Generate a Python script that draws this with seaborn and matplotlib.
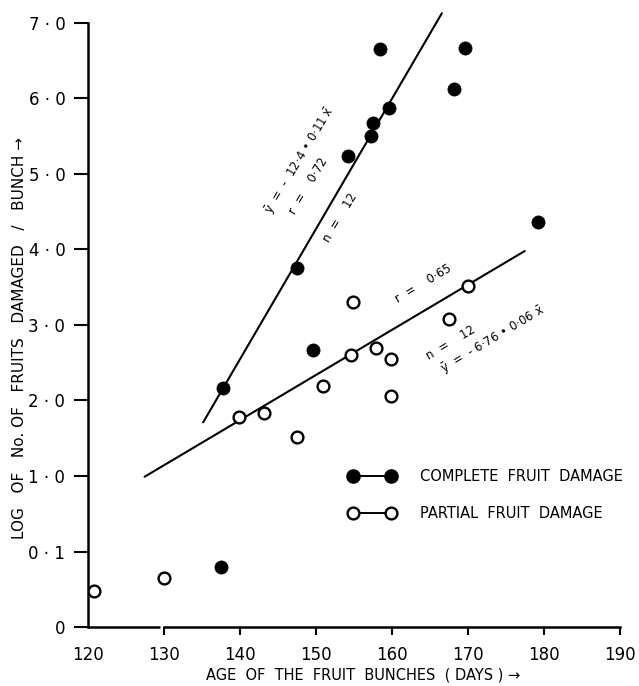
import matplotlib
matplotlib.use("Agg")
import matplotlib.pyplot as plt
import seaborn as sns
from matplotlib.lines import Line2D

# ---------------------------------------------------
# Daten
# ---------------------------------------------------
complete_age = [137.5, 137.8, 147.6, 149.6, 154.2, 157.3, 157.5, 158.4, 159.6, 168.2, 169.6, 179.2]
complete_log = [-0.20, 2.17, 3.76, 2.67, 5.24, 5.50, 5.68, 6.66, 5.88, 6.13, 6.67, 4.37]

partial_age = [120.9, 130.1, 139.9, 143.2, 147.5, 150.9, 154.7, 154.9, 157.9, 159.9, 159.9, 167.5, 170.0]
partial_log = [-0.52, -0.35, 1.78, 1.83, 1.52, 2.19, 2.60, 3.30, 2.70, 2.55, 2.06, 3.08, 3.51]

# Regressionsgeraden (Endpunkte)
complete_fit_age = [135.2, 166.6]
complete_fit_log = [1.71, 7.13]
partial_fit_age = [127.5, 177.5]
partial_fit_log = [0.99, 3.98]

x_ticks = [120, 130, 140, 150, 160, 170, 180, 190]
y_ticks = [-1, 0, 1, 2, 3, 4, 5, 6, 7]
y_tick_labels = ["0", "0 · 1", "1 · 0", "2 · 0", "3 · 0", "4 · 0", "5 · 0", "6 · 0", "7 · 0"]

legend_labels = ["COMPLETE  FRUIT  DAMAGE", "PARTIAL  FRUIT  DAMAGE"]

# ---------------------------------------------------
# Plot
# ---------------------------------------------------
sns.set_style("ticks")
plt.rcParams["font.family"] = ["DejaVu Sans"]
plt.rcParams["mathtext.fontset"] = "dejavusans"
for key in ["text.color", "axes.labelcolor", "xtick.color", "ytick.color", "axes.edgecolor"]:
    plt.rcParams[key] = "black"

fig = plt.figure(figsize=(6.39, 6.86), dpi=100)
ax = fig.add_axes([0.137, 0.086, 0.833, 0.9025])

sns.lineplot(x=complete_fit_age, y=complete_fit_log, color="black", lw=1.5, ax=ax)
sns.lineplot(x=partial_fit_age, y=partial_fit_log, color="black", lw=1.5, ax=ax)

sns.scatterplot(x=complete_age, y=complete_log, color="black", s=90,
                edgecolor="black", linewidth=0.5, ax=ax, zorder=3)
sns.scatterplot(x=partial_age, y=partial_log, facecolor="white", s=72,
                edgecolor="black", linewidth=1.7, ax=ax, zorder=3)

ax.set_xlim(120, 190)
ax.set_ylim(-1, 7.2)
ax.set_xticks(x_ticks)
ax.set_xticklabels([str(t) for t in x_ticks], fontsize=12)
ax.set_yticks(y_ticks)
ax.set_yticklabels(y_tick_labels, fontsize=12)
ax.tick_params(axis="y", direction="out", length=10, width=1.5, pad=6)
ax.tick_params(axis="x", direction="out", length=6, width=1.5, pad=8)
ax.xaxis.get_major_ticks()[0].tick1line.set_visible(False)

sns.despine(ax=ax)
ax.spines["left"].set_linewidth(1.8)
ax.spines["bottom"].set_linewidth(1.8)
ax.spines["left"].set_bounds(-1, 7)
ax.spines["bottom"].set_bounds(130, 190)
# kurzes Achsenstueck 120-130 mit Unterbrechung
ax.plot([120, 129.5], [-1, -1], color="black", lw=1.8, clip_on=False,
        solid_capstyle="butt")

ax.set_xlabel("AGE  OF  THE  FRUIT  BUNCHES  ( DAYS ) →", fontsize=10.5, va="center")
ax.xaxis.set_label_coords(0.517, -0.0775)
ax.set_ylabel("LOG   OF   No. OF   FRUITS   DAMAGED   /   BUNCH →", fontsize=11, va="center")
ax.yaxis.set_label_coords(-0.128, 0.467)

# Beschriftungen an den Geraden
xbar = r"$\bar{\mathrm{x}}$"
ax.text(147.9, 5.18, "ȳ  =  -  12·4 • 0·11 " + xbar, rotation=59, fontsize=8.5,
        ha="center", va="center", rotation_mode="anchor")
ax.text(149.0, 4.84, "r  =    0·72", rotation=59, fontsize=8.5,
        ha="center", va="center", rotation_mode="anchor")
ax.text(153.2, 4.42, "n  =    12", rotation=59, fontsize=8.5,
        ha="center", va="center", rotation_mode="anchor")
ax.text(164.2, 3.55, "r  =    0·65", rotation=31, fontsize=8.5,
        ha="center", va="center", rotation_mode="anchor")
ax.text(167.7, 2.76, "n  =    12", rotation=31, fontsize=8.5,
        ha="center", va="center", rotation_mode="anchor")
ax.text(173.3, 2.81, "ȳ  =  - 6·76 • 0·06 " + xbar, rotation=31, fontsize=8.5,
        ha="center", va="center", rotation_mode="anchor")

handles = [
    Line2D([], [], color="black", lw=1.4, marker="o", markersize=9.5,
           markerfacecolor="black", markeredgecolor="black"),
    Line2D([], [], color="black", lw=1.4, marker="o", markersize=8.5,
           markerfacecolor="white", markeredgecolor="black", markeredgewidth=1.7),
]
ax.legend(handles, legend_labels, numpoints=2, frameon=False, fontsize=10.5,
          handlelength=3.2, handletextpad=1.7, labelspacing=1.55,
          loc="center left", bbox_to_anchor=(0.466, 0.213))

plt.savefig("out.png", dpi=100)
plt.close()
